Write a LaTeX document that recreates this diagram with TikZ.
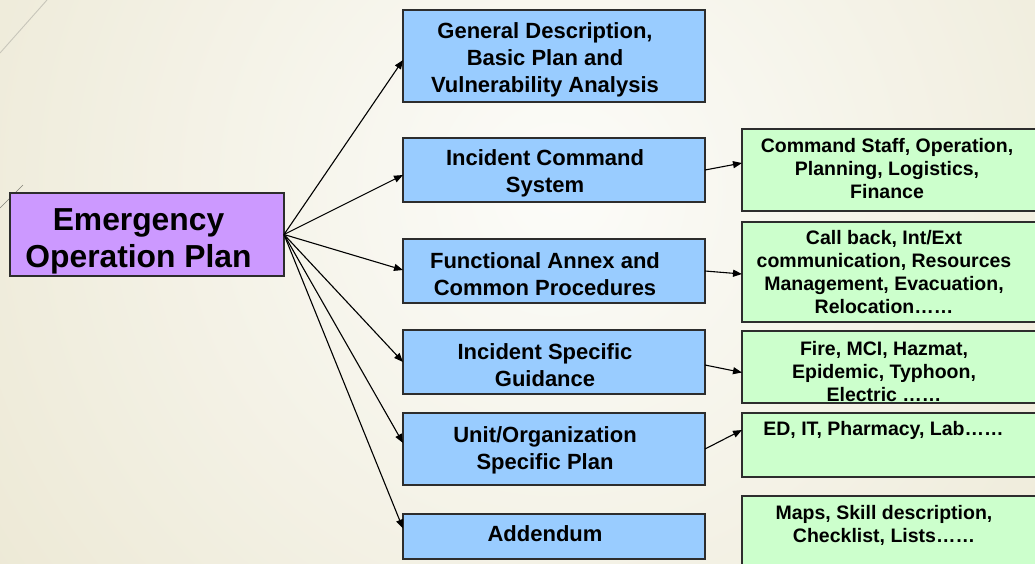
\documentclass[tikz,border=0pt]{standalone}
\usepackage{fontspec}
\setmainfont{Liberation Sans}
\usetikzlibrary{arrows.meta,calc}

\definecolor{bgin}{RGB}{252,252,249}
\definecolor{bgout}{RGB}{236,232,212}
\definecolor{wisp}{RGB}{200,198,186}
\definecolor{wispdark}{RGB}{130,128,118}
\definecolor{planfill}{RGB}{204,153,255}
\definecolor{partfill}{RGB}{153,204,255}
\definecolor{detailfill}{RGB}{204,255,204}
\definecolor{edge}{RGB}{45,45,45}

\tikzset{
  box/.style={draw=edge, line width=1.3pt, inner sep=0pt, outer sep=0pt, anchor=north west},
  planbox/.style={box, fill=planfill},
  partbox/.style={box, fill=partfill},
  detailbox/.style={box, fill=detailfill},
  plantext/.style={align=center, inner sep=0pt, font=\fontsize{31.8}{37}\selectfont\bfseries},
  parttext/.style={align=center, inner sep=0pt, font=\fontsize{22}{27}\selectfont\bfseries},
  detailtext/.style={align=center, inner sep=0pt, font=\fontsize{19.5}{23}\selectfont\bfseries},
  arr/.style={line width=1.1pt, -{Triangle[length=9pt,width=7pt]}},
}

\begin{document}
\begin{tikzpicture}[x=1pt, y=-1pt]
  % slide background
  \useasboundingbox (0,0) rectangle (1035,563);
  \begin{scope}
    \clip (0,0) rectangle (1035,563);
    \fill[bgout] (0,0) rectangle (1035,563);
    \shade[inner color=bgin, outer color=bgout] (560,190) circle (720);
  \end{scope}

  % thin wisp lines of the slide theme
  \draw[wisp, line width=0.9pt] (0,53) -- (47,0);
  \draw[wispdark, line width=0.6pt] (0,208) -- (23,185);

  % root
  \node[planbox, minimum width=274pt, minimum height=83pt] (plan) at (10,193) {};
  \node[plantext] (plantxt) at (138.5,241) {Emergency\\Operation Plan};

  % parts of the plan
  \node[partbox, minimum width=302pt, minimum height=92pt] (p1) at (403,10) {};
  \node[partbox, minimum width=302pt, minimum height=64pt] (p2) at (403,138) {};
  \node[partbox, minimum width=302pt, minimum height=64pt] (p3) at (403,239) {};
  \node[partbox, minimum width=302pt, minimum height=64pt] (p4) at (403,330) {};
  \node[partbox, minimum width=302pt, minimum height=72pt] (p5) at (403,413) {};
  \node[partbox, minimum width=302pt, minimum height=45pt] (p6) at (403,514) {};

  \node[parttext] (p1txt) at (545,60) {General Description,\\Basic Plan and\\Vulnerability Analysis};
  \node[parttext] (p2txt) at (545,173) {Incident Command\\System};
  \node[parttext] (p3txt) at (545,274) {Functional Annex and\\Common Procedures};
  \node[parttext] (p4txt) at (545,365) {Incident Specific\\Guidance};
  \node[parttext] (p5txt) at (545,450) {Unit/Organization\\Specific Plan};
  \node[parttext] (p6txt) at (545,534) {Addendum};

  % details
  \node[detailbox, minimum width=300pt, minimum height=82pt] (d1) at (742,129) {};
  \node[detailbox, minimum width=300pt, minimum height=100pt] (d2) at (742,222) {};
  \node[detailbox, minimum width=300pt, minimum height=72pt] (d3) at (742,331) {};
  \node[detailbox, minimum width=300pt, minimum height=64pt] (d4) at (742,413) {};
  \node[detailbox, minimum width=300pt, minimum height=80pt] (d5) at (742,496) {};

  \node[detailtext] (d1txt) at (887,169) {Command Staff, Operation,\\Planning, Logistics,\\Finance};
  \node[detailtext] (d2txt) at (884,272.5) {Call back, Int/Ext\\communication, Resources\\Management, Evacuation,\\Relocation\ldots\ldots};
  \node[detailtext] (d3txt) at (884,372) {Fire, MCI, Hazmat,\\Epidemic, Typhoon,\\Electric \ldots\ldots};
  \node[detailtext] (d4txt) at (883.5,430) {ED, IT, Pharmacy, Lab\ldots\ldots};
  \node[detailtext] (d5txt) at (884,525) {Maps, Skill description,\\Checklist, Lists\ldots\ldots};
  % lower edge of the third detail box lies over its last line
  \draw[edge, line width=1.3pt] (d3.south west) -- (d3.south east);

  % root to parts
  \draw[arr] (plan.east) -- ($(p1.west)+(0,4)$);
  \draw[arr] (plan.east) -- ($(p2.west)+(0,5)$);
  \draw[arr] (plan.east) -- ($(p3.west)+(0,-1)$);
  \draw[arr] (plan.east) -- (p4.west);
  \draw[arr] (plan.east) -- ($(p5.west)+(0,-6)$);
  \draw[arr] (plan.east) -- ($(p6.west)+(0,-8)$);

  % parts to details
  \draw[arr] (p2.east) -- ($(d1.west)+(0,-7)$);
  \draw[arr] (p3.east) -- ($(d2.west)+(0,2)$);
  \draw[arr] ($(p4.east)+(0,3)$) -- ($(d3.west)+(0,5.5)$);
  \draw[arr] (p5.east) -- ($(d4.west)+(0,-15)$);
\end{tikzpicture}
\end{document}
